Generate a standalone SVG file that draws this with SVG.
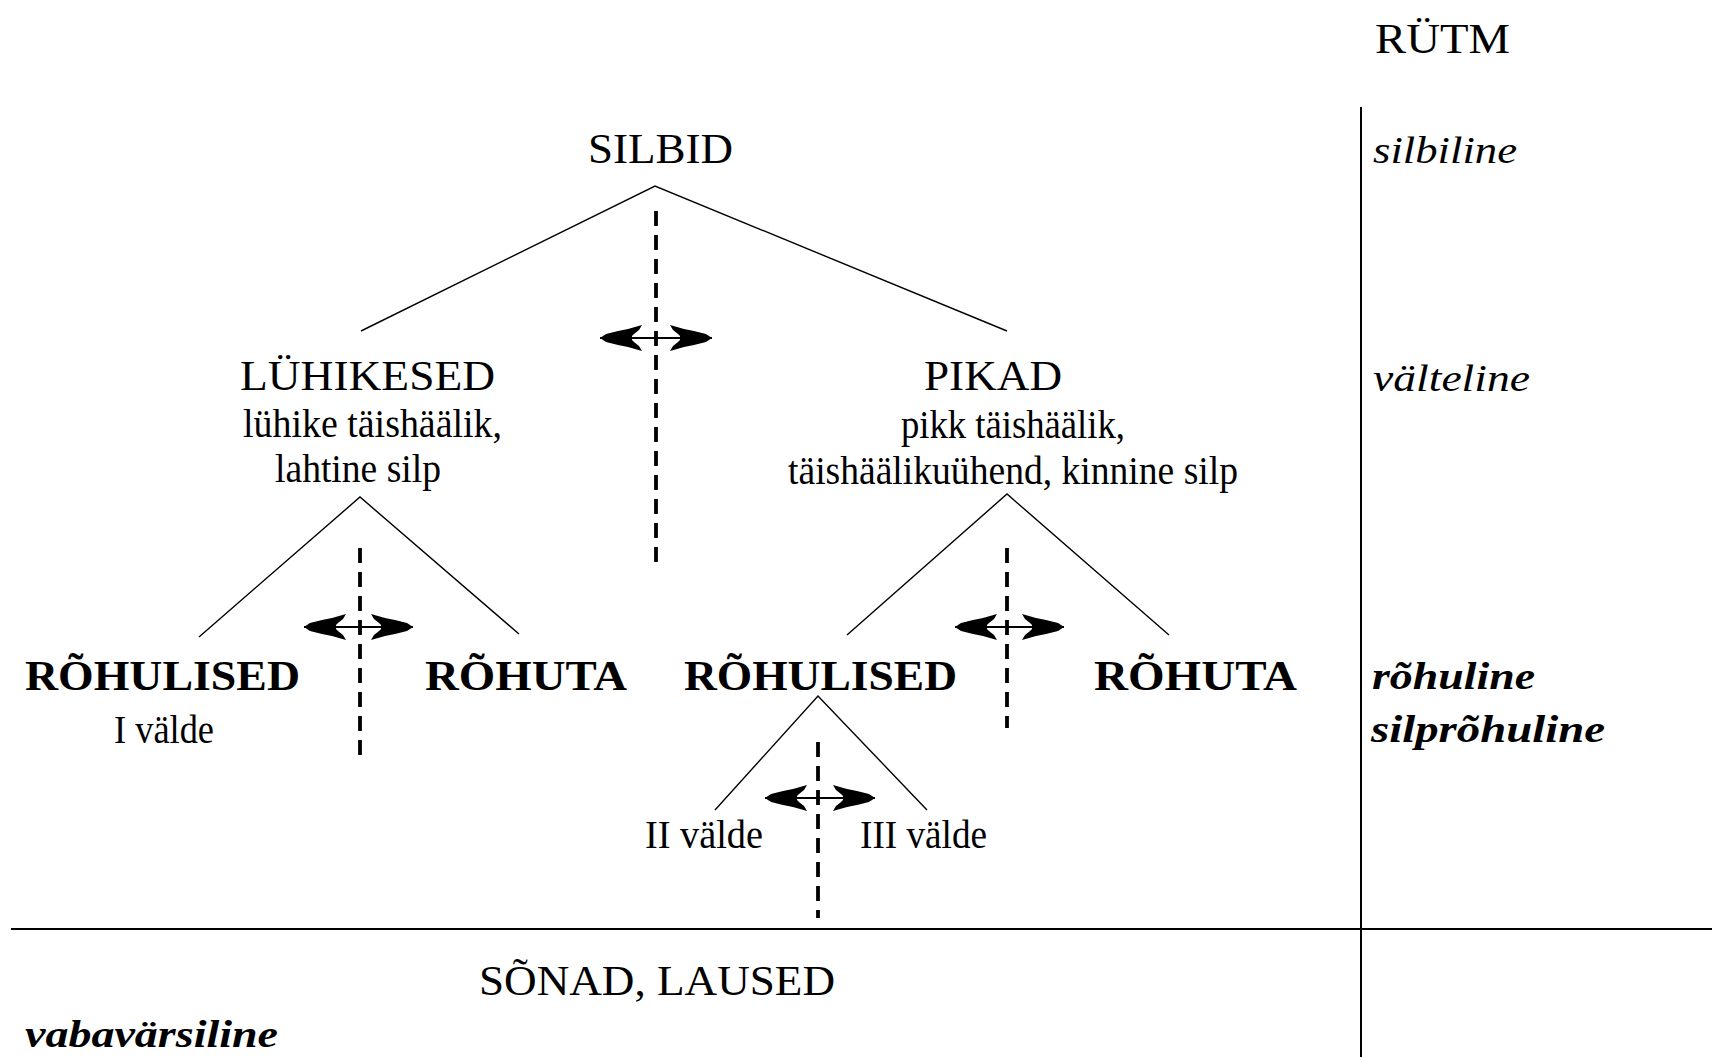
<svg xmlns="http://www.w3.org/2000/svg" width="1712" height="1057" viewBox="0 0 1712 1057">
<style>
text{font-family:"Liberation Serif","Times New Roman",serif;fill:#000}
.lab{font-size:43px}
.sub{font-size:39px}
.b{font-size:43px;font-weight:bold}
.it{font-size:37px;font-style:italic}
.bi{font-size:38px;font-style:italic;font-weight:bold}
.tree{stroke:#000;stroke-width:1.4;fill:none}
.dash{stroke:#000;stroke-width:3.8;stroke-dasharray:15 9;fill:none}
.axis{stroke:#000;stroke-width:2;fill:none}
.arr{stroke:#000;stroke-width:2.2;marker-start:url(#ah);marker-end:url(#ah)}
</style>
<defs>
<marker id="ah" markerUnits="userSpaceOnUse" viewBox="-45 -15 47 30" refX="0" refY="0" markerWidth="47" markerHeight="30" orient="auto-start-reverse">
<path d="M0,0 L-6,-4 L-18,-7 L-28,-9 L-42,-13 L-39,-8 L-34,-4 L-32,-2 L-32,2 L-34,4 L-39,8 L-42,13 L-28,9 L-18,7 L-6,4 Z" fill="#000"/>
</marker>
</defs>
<rect width="1712" height="1057" fill="#fff"/>
<g id="axes">
<line class="axis" x1="1361" y1="107" x2="1361" y2="1057"/>
<line class="axis" x1="11" y1="929" x2="1712" y2="929"/>
</g>
<g id="connectors">
<polyline class="tree" points="361,331 655,186 1007,331"/>
<polyline class="tree" points="199,637 360,497 519,634"/>
<polyline class="tree" points="847,635 1007,494 1169,635"/>
<polyline class="tree" points="715,810 818,696 927,810"/>
<line class="dash" x1="656" y1="211" x2="656" y2="566"/>
<line class="dash" x1="360" y1="548" x2="360" y2="757"/>
<line class="dash" x1="1007" y1="548" x2="1007" y2="728"/>
<line class="dash" x1="818" y1="742" x2="818" y2="918"/>
<line class="arr" x1="600" y1="338" x2="712" y2="338"/>
<line class="arr" x1="304" y1="627" x2="413" y2="627"/>
<line class="arr" x1="955" y1="627" x2="1064" y2="627"/>
<line class="arr" x1="765" y1="798" x2="875" y2="798"/>
</g>
<g id="rutm"><text class="lab" x="1375" y="53" textLength="135" lengthAdjust="spacingAndGlyphs">RÜTM</text></g>
<g id="silbid"><text class="lab" x="588" y="163" textLength="145" lengthAdjust="spacingAndGlyphs">SILBID</text></g>
<g id="luhikesed">
<text class="lab" x="240" y="390" textLength="255" lengthAdjust="spacingAndGlyphs">LÜHIKESED</text>
<text class="sub" x="243" y="437" textLength="259" lengthAdjust="spacingAndGlyphs">lühike täishäälik,</text>
<text class="sub" x="275" y="482" textLength="166" lengthAdjust="spacingAndGlyphs">lahtine silp</text>
</g>
<g id="pikad">
<text class="lab" x="924" y="390" textLength="138" lengthAdjust="spacingAndGlyphs">PIKAD</text>
<text class="sub" x="901" y="438" textLength="224" lengthAdjust="spacingAndGlyphs">pikk täishäälik,</text>
<text class="sub" x="788" y="484" textLength="450" lengthAdjust="spacingAndGlyphs">täishäälikuühend, kinnine silp</text>
</g>
<g id="rohulised1">
<text class="b" x="25" y="690" textLength="275" lengthAdjust="spacingAndGlyphs">RÕHULISED</text>
<text class="sub" x="114" y="743" textLength="100" lengthAdjust="spacingAndGlyphs">I välde</text>
</g>
<g id="rohuta1"><text class="b" x="425" y="690" textLength="202" lengthAdjust="spacingAndGlyphs">RÕHUTA</text></g>
<g id="rohulised2"><text class="b" x="684" y="690" textLength="273" lengthAdjust="spacingAndGlyphs">RÕHULISED</text></g>
<g id="rohuta2"><text class="b" x="1094" y="690" textLength="203" lengthAdjust="spacingAndGlyphs">RÕHUTA</text></g>
<g id="valde2"><text class="sub" x="645" y="848" textLength="118" lengthAdjust="spacingAndGlyphs">II välde</text></g>
<g id="valde3"><text class="sub" x="860" y="848" textLength="127" lengthAdjust="spacingAndGlyphs">III välde</text></g>
<g id="sonad"><text class="lab" x="479" y="995" textLength="356" lengthAdjust="spacingAndGlyphs">SÕNAD, LAUSED</text></g>
<g id="vabavarsiline"><text class="bi" x="25" y="1047" textLength="253" lengthAdjust="spacingAndGlyphs">vabavärsiline</text></g>
<g id="rhythm">
<text class="it" x="1373" y="163" textLength="144" lengthAdjust="spacingAndGlyphs">silbiline</text>
<text class="it" x="1373" y="391" textLength="157" lengthAdjust="spacingAndGlyphs">välteline</text>
<text class="bi" x="1372" y="689" textLength="163" lengthAdjust="spacingAndGlyphs">rõhuline</text>
<text class="bi" x="1371" y="742" textLength="234" lengthAdjust="spacingAndGlyphs">silprõhuline</text>
</g>
</svg>
